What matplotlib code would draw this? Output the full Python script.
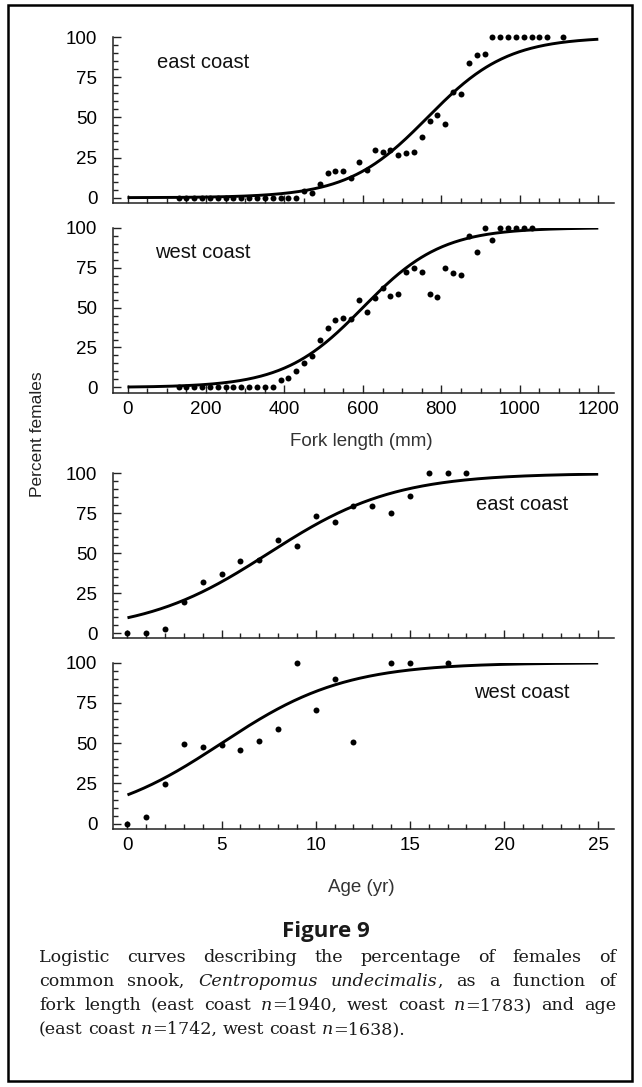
import numpy as np
import matplotlib
matplotlib.use("Agg")
import matplotlib.pyplot as plt
from matplotlib.ticker import MultipleLocator
from matplotlib.patches import Rectangle

# ---------------- data ----------------
# Percent females vs fork length (mm), east coast
ec_len_mm = [130, 150, 170, 190, 210, 230, 250, 270, 290, 310, 330, 350, 370, 390, 410, 430,
             450, 470, 490, 510, 530, 550, 570, 590, 610, 630, 650, 670, 690, 710, 730, 750,
             770, 790, 810, 830, 850, 870, 890, 910, 930, 950, 970, 990, 1010, 1030, 1050, 1070, 1110]
ec_len_pct = [0, 0, 0, 0, 0, 0, 0, 0, 0, 0, 0, 0, 0, 0, 0, 0,
              4.3, 3.1, 8.3, 15.3, 16.5, 16.5, 12.5, 22.5, 17.5, 29.5, 28.5, 29.5, 26.5, 28, 28.5, 38,
              48, 51.5, 46, 65.5, 64.5, 84, 88.5, 89.5, 100, 100, 100, 100, 100, 100, 100, 100, 100]

# Percent females vs fork length (mm), west coast
wc_len_mm = [130, 150, 170, 190, 210, 230, 250, 270, 290, 310, 330, 350, 370,
             390, 410, 430, 450, 470, 490, 510, 530, 550, 570, 590, 610, 630, 650, 670, 690,
             710, 730, 750, 770, 790, 810, 830, 850, 870, 890, 910, 930, 950, 970, 990, 1010, 1030]
wc_len_pct = [0, 0, 0, 0, 0, 0, 0, 0, 0, 0, 0, 0, 0,
              4.6, 5.8, 10, 15.5, 19.5, 30, 37, 42, 43.5, 43, 54.5, 47.5, 56, 62.5, 57.5, 58.5,
              72.5, 74.5, 72.5, 58.5, 56.5, 75, 71.5, 70.5, 95, 85, 100, 92, 100, 100, 100, 100, 100]

# Percent females vs age (yr), east coast
ec_age_yr = [0, 1, 2, 3, 4, 5, 6, 7, 8, 9, 10, 11, 12, 13, 14, 15, 16, 17, 18]
ec_age_pct = [0, 0, 2.7, 19.2, 32.2, 36.8, 45, 45.9, 58.3, 54.3, 73.3, 69.5, 79.4, 79.4, 75.4, 86.1, 100, 100, 100]

# Percent females vs age (yr), west coast
wc_age_yr = [0, 1, 2, 3, 4, 5, 6, 7, 8, 9, 10, 11, 12, 14, 15, 17]
wc_age_pct = [0, 4.1, 24.6, 49.5, 47.6, 48.7, 45.5, 51.6, 58.6, 100, 70.6, 89.9, 50.5, 100, 100, 100]

# Fitted logistic curves: (midpoint, slope)
ec_len_fit = (765.0, 0.0098)
wc_len_fit = (600.0, 0.0099)
ec_age_fit = (7.5, 0.30)
wc_age_fit = (5.0, 0.305)

len_ticks = [0, 200, 400, 600, 800, 1000, 1200]
age_ticks = [0, 5, 10, 15, 20, 25]
pct_ticks = [0, 25, 50, 75, 100]

caption_title = "Figure 9"

# ---------------- layout ----------------
W, H = 642, 1087
fig = plt.figure(figsize=(W / 100, H / 100), dpi=100)
fig.patch.set_facecolor("white")

SANS = ["Liberation Sans", "DejaVu Sans"]
plt.rcParams["font.family"] = SANS


def px_axes(left, top, right, bottom):
    return fig.add_axes([left / W, 1 - bottom / H, (right - left) / W, (bottom - top) / H])


def logistic(x, fit):
    mid, slope = fit
    return 100.0 / (1.0 + np.exp(-slope * (np.asarray(x) - mid)))


L, R = 112.6, 614.0
YMIN = -3.3


def setup(ax, xlim, ticks, minor, show_xlabels):
    ax.set_xlim(*xlim)
    ax.set_ylim(YMIN, 100)
    for s in ["top", "right"]:
        ax.spines[s].set_visible(False)
    ax.spines["left"].set_bounds(YMIN, 100)
    for s in ["left", "bottom"]:
        ax.spines[s].set_linewidth(1.1)
        ax.spines[s].set_color("#222222")
    ax.set_xticks(ticks)
    ax.xaxis.set_minor_locator(MultipleLocator(minor))
    ax.set_yticks(pct_ticks)
    ax.yaxis.set_minor_locator(MultipleLocator(5))
    ax.tick_params(which="both", direction="in", color="#222222", width=1.0)
    ax.tick_params(which="major", length=6)
    ax.tick_params(which="minor", length=3.5)
    ax.tick_params(axis="y", which="major", pad=11, labelsize=13.5)
    ax.tick_params(axis="x", which="major", pad=6, labelsize=13.5)
    if not show_xlabels:
        ax.tick_params(axis="x", labelbottom=False)
    ax.patch.set_alpha(0)


def panel(ax, xs, ys, fit, xmax, label, lx, ly):
    xc = np.linspace(0, xmax, 400)
    ax.plot(xc, logistic(xc, fit), color="black", lw=2.1, solid_capstyle="butt", zorder=2)
    ax.plot(xs, ys, "o", color="black", ms=4.3, mew=0, clip_on=False, zorder=3)
    fig.text(lx / W, 1 - ly / H, label, fontsize=14.5, ha="center", va="center", color="#111111")


len_xlim = (-38.0, 1240.0)
age_xlim = (-0.79, 25.84)

ax1 = px_axes(L, 37.0, R, 203.0)
setup(ax1, len_xlim, len_ticks, 50, False)
panel(ax1, ec_len_mm, ec_len_pct, ec_len_fit, 1200, "east coast", 203, 63)

ax2 = px_axes(L, 227.7, R, 392.7)
setup(ax2, len_xlim, len_ticks, 50, True)
panel(ax2, wc_len_mm, wc_len_pct, wc_len_fit, 1200, "west coast", 203, 253)

ax3 = px_axes(L, 473.3, R, 638.3)
setup(ax3, age_xlim, age_ticks, 1, False)
panel(ax3, ec_age_yr, ec_age_pct, ec_age_fit, 25, "east coast", 522, 505)

ax4 = px_axes(L, 662.7, R, 829.0)
setup(ax4, age_xlim, age_ticks, 1, True)
panel(ax4, wc_age_yr, wc_age_pct, wc_age_fit, 25, "west coast", 522, 693)

fig.text(361 / W, 1 - 442 / H, "Fork length (mm)", fontsize=13.5, ha="center", va="center", color="#333333")
fig.text(361 / W, 1 - 888 / H, "Age (yr)", fontsize=13.5, ha="center", va="center", color="#333333")
fig.text(37.5 / W, 1 - 434 / H, "Percent females", fontsize=12.5, rotation=90, ha="center", va="center",
         color="#222222")

# border
fig.patches.append(Rectangle((8 / W, 1 - 1081 / H), 624 / W, 1076 / H, transform=fig.transFigure,
                             fill=False, edgecolor="black", linewidth=1.8))

fig.text(326 / W, 1 - 931 / H, caption_title, fontsize=16, fontweight="bold", ha="center", va="center",
         family=["Open Sans", "DejaVu Sans"], color="#1a1a1a")

# ---------------- caption with justified lines ----------------
SERIF = ["DejaVu Serif"]
CAP_SIZE = 12.6
cap_lines = [
    [[("Logistic", False)], [("curves", False)], [("describing", False)], [("the", False)],
     [("percentage", False)], [("of", False)], [("females", False)], [("of", False)]],
    [[("common", False)], [("snook,", False)], [("Centropomus", True)], [("undecimalis", True), (",", False)],
     [("as", False)], [("a", False)], [("function", False)], [("of", False)]],
    [[("fork", False)], [("length", False)], [("(east", False)], [("coast", False)], [("n", True), ("=1940,", False)],
     [("west", False)], [("coast", False)], [("n", True), ("=1783)", False)], [("and", False)], [("age", False)]],
    [[("(east", False)], [("coast", False)], [("n", True), ("=1742,", False)], [("west", False)], [("coast", False)],
     [("n", True), ("=1638).", False)]],
]
cap_baselines = [962, 986, 1010, 1034]
CX0, CX1 = 39.0, 616.0

fig.canvas.draw()
renderer = fig.canvas.get_renderer()


def seg_width(txt, italic):
    t = fig.text(0, 0, txt, fontsize=CAP_SIZE, family=SERIF, style="italic" if italic else "normal")
    w = t.get_window_extent(renderer).width
    t.remove()
    return w


space_w = seg_width("a a", False) - 2 * seg_width("a", False)

for i, (words, yb) in enumerate(zip(cap_lines, cap_baselines)):
    widths = [[seg_width(s, it) for s, it in word] for word in words]
    totals = [sum(w) for w in widths]
    if i < len(cap_lines) - 1:
        gap = (CX1 - CX0 - sum(totals)) / (len(words) - 1)
    else:
        gap = space_w
    x = CX0
    for word, ws in zip(words, widths):
        for (s, it), w in zip(word, ws):
            fig.text(x / W, 1 - yb / H, s, fontsize=CAP_SIZE, family=SERIF,
                     style="italic" if it else "normal", ha="left", va="baseline", color="#1a1a1a")
            x += w
        x += gap

fig.savefig("out.png", dpi=100, facecolor="white")
